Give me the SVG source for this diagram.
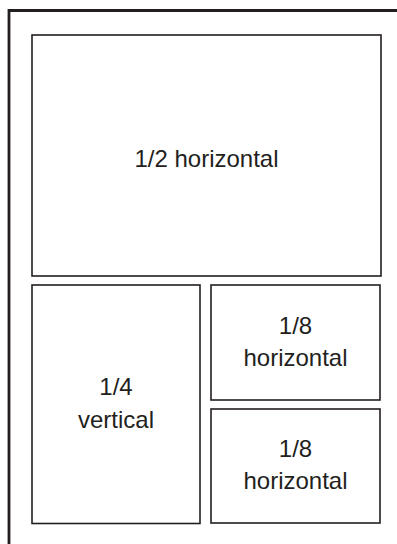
<svg xmlns="http://www.w3.org/2000/svg" width="397" height="544" viewBox="0 0 397 544">
<style>
.box{fill:#fff;stroke:#231f20;stroke-width:1.6}
.frame{fill:none;stroke:#231f20;stroke-width:2.8}
text{font-family:"Liberation Sans",Arial,sans-serif;font-size:24px;fill:#231f20;text-anchor:middle}
</style>
<rect width="397" height="544" fill="#fff"/>
<path class="frame" d="M9,545 V10.5 H398"/>
<g id="half">
<rect class="box" x="32" y="35" width="349" height="241"/>
<text x="206.5" y="166.5">1/2 horizontal</text>
</g>
<g id="quarter">
<rect class="box" x="32" y="285" width="168" height="238.5"/>
<text x="116" y="395">1/4</text>
<text x="116" y="428">vertical</text>
</g>
<g id="eighth1">
<rect class="box" x="211" y="285" width="169" height="115"/>
<text x="295.5" y="334">1/8</text>
<text x="295.5" y="366">horizontal</text>
</g>
<g id="eighth2">
<rect class="box" x="211" y="409" width="169" height="114"/>
<text x="295.5" y="457">1/8</text>
<text x="295.5" y="489">horizontal</text>
</g>
<g id="connectors"/>
</svg>
